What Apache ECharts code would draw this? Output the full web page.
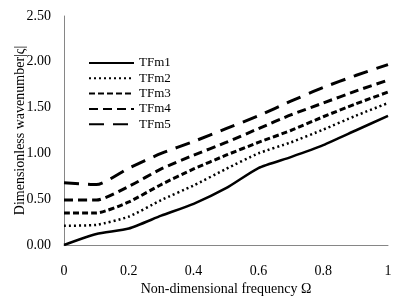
<!doctype html>
<html lang="en">
<head>
  <meta charset="UTF-8">
  <title>Dimensionless wavenumber</title>
  <style>
    html, body { margin: 0; padding: 0; background: #fff; }
    #chart { width: 405px; height: 304px; }
  </style>
  <script src="https://cdn.jsdelivr.net/npm/echarts@6/dist/echarts.min.js"></script>
</head>
<body>
  <div id="chart"></div>
  <script>
    var freq = [0, 0.1, 0.2, 0.3, 0.4, 0.5, 0.6, 0.7, 0.8, 0.9, 1.0];
    var tfm1 = [0, 0.12, 0.18, 0.32, 0.45, 0.62, 0.84, 0.96, 1.09, 1.25, 1.41];
    var tfm2 = [0.21, 0.22, 0.31, 0.49, 0.65, 0.83, 1.00, 1.12, 1.26, 1.41, 1.55];
    var tfm3 = [0.35, 0.35, 0.47, 0.66, 0.83, 0.98, 1.12, 1.25, 1.40, 1.54, 1.67];
    var tfm4 = [0.49, 0.49, 0.64, 0.83, 0.98, 1.12, 1.27, 1.42, 1.55, 1.68, 1.80];
    var tfm5 = [0.68, 0.66, 0.84, 1.00, 1.13, 1.27, 1.41, 1.57, 1.72, 1.85, 1.97];
    var names = ['TFm1', 'TFm2', 'TFm3', 'TFm4', 'TFm5'];

    var font = '"Liberation Serif", "Times New Roman", serif';

    function pairs(ys) {
      return freq.map(function (x, i) { return [x, ys[i]]; });
    }

    // line look per series: width, dash pattern
    var styles = [
      { width: 2.5, type: 'solid' },
      { width: 2.5, type: [2, 3] },
      { width: 3, type: [6, 3] },
      { width: 3, type: [9, 5] },
      { width: 3, type: [15, 9] }
    ];
    var all = [tfm1, tfm2, tfm3, tfm4, tfm5];

    var chart = echarts.init(document.getElementById('chart'));
    chart.setOption({
      backgroundColor: '#fff',
      animation: false,
      grid: { left: 64, right: 17, top: 16, bottom: 59, outerBoundsMode: 'none', containLabel: false },
      legend: {
        data: names,
        orient: 'vertical',
        left: 88,
        top: 56,
        padding: 0,
        itemWidth: 45,
        itemHeight: 10,
        itemGap: 1.3,
        // hide the circle that line series put in the legend
        itemStyle: { color: 'rgba(0,0,0,0)', borderWidth: 0 },
        textStyle: { fontFamily: font, fontSize: 13, color: '#000', lineHeight: 14 }
      },
      xAxis: {
        type: 'value',
        min: 0,
        max: 1,
        interval: 0.2,
        name: 'Non-dimensional frequency Ω',
        nameLocation: 'middle',
        nameGap: 37,
        nameMoveOverlap: false,
        nameTextStyle: { fontFamily: font, fontSize: 14, color: '#000' },
        axisLine: { lineStyle: { color: '#868686', width: 1 } },
        axisTick: { show: false },
        splitLine: { show: false },
        axisLabel: {
          fontFamily: font, fontSize: 14, color: '#000', margin: 19,
          formatter: function (v) { return v === 0 || v === 1 ? String(v) : v.toFixed(1); }
        }
      },
      yAxis: {
        type: 'value',
        min: 0,
        max: 2.5,
        interval: 0.5,
        name: 'Dimensionless wavenumber|ς|',
        nameLocation: 'middle',
        nameGap: 37,
        nameMoveOverlap: false,
        nameTextStyle: { fontFamily: font, fontSize: 14, color: '#000' },
        axisLine: { show: true, lineStyle: { color: '#868686', width: 1 } },
        axisTick: { show: false },
        splitLine: { show: false },
        axisLabel: {
          fontFamily: font, fontSize: 14, color: '#000', margin: 13,
          formatter: function (v) { return v.toFixed(2); }
        }
      },
      series: names.map(function (n, i) {
        return {
          name: n,
          type: 'line',
          data: pairs(all[i]),
          smooth: 0.2,
          symbol: 'none',
          itemStyle: { color: '#000' },
          lineStyle: { color: '#000', width: styles[i].width, type: styles[i].type }
        };
      })
    });
  </script>
</body>
</html>
